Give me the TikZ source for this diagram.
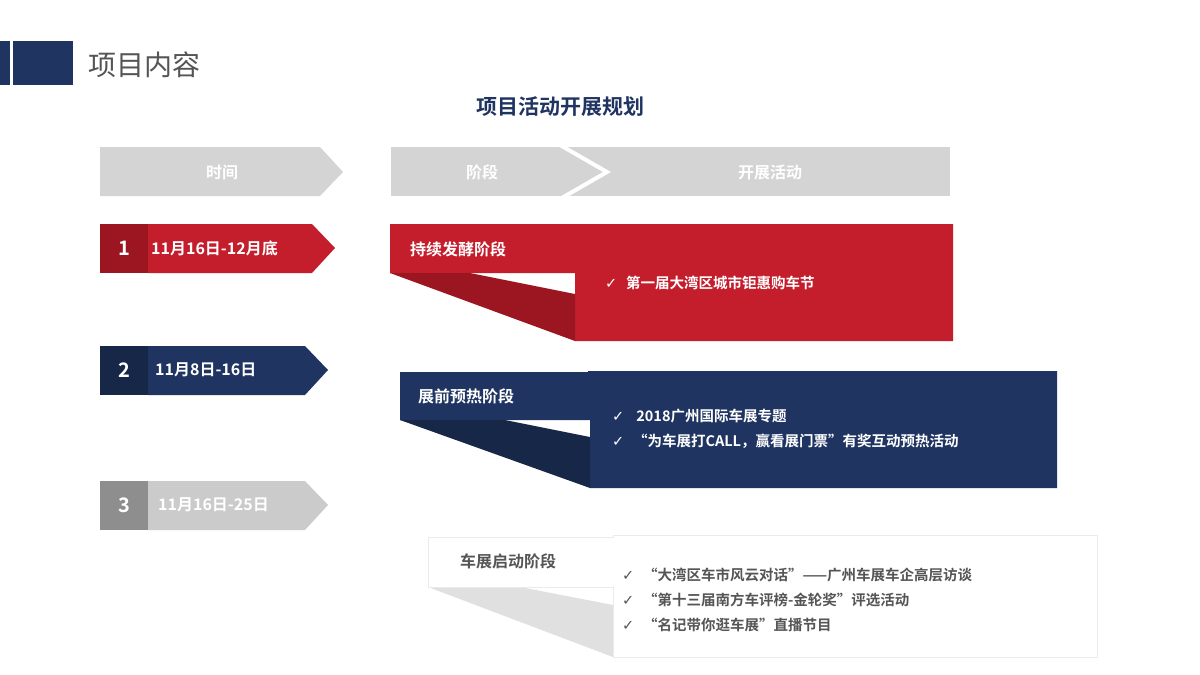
\documentclass[tikz,border=0pt]{standalone}
\usepackage{fontspec}
\setmainfont{Noto Sans CJK SC}
\newfontfamily\cjkb{Noto Sans CJK SC Bold}
\newfontfamily\dv{DejaVu Sans}
\definecolor{rd}{HTML}{C41E2D}
\definecolor{drd}{HTML}{9C1621}
\definecolor{nv}{HTML}{1F3461}
\definecolor{dnv}{HTML}{172747}
\definecolor{hg}{HTML}{D4D4D4}
\definecolor{dg}{HTML}{8E8E8E}
\definecolor{lg}{HTML}{CBCBCB}
\definecolor{tg}{HTML}{555555}
\newcommand{\ck}{{\dv\char"2713}\hspace{0.6em}}
\tikzset{wt/.style={text=white,font=\cjkb\fontsize{16}{18}\selectfont,inner sep=0pt},
 bl/.style={anchor=west,inner sep=0pt,font=\cjkb\fontsize{14.5}{25}\selectfont,align=left}}
\begin{document}
\begin{tikzpicture}[x=1pt,y=-1pt]
\useasboundingbox (0,0) rectangle (1200,675);
\fill[white] (0,0) rectangle (1200,675);
% title
\fill[nv] (0,41) rectangle (10,85);
\fill[nv] (13,41) rectangle (73,85);
\node[anchor=west,text=tg,font=\fontsize{28}{30}\selectfont,inner sep=0pt] (title) at (88,65) {项目内容};
\node[text=nv,font=\cjkb\fontsize{21}{24}\selectfont,inner sep=0pt] (sub) at (560,107) {项目活动开展规划};
% header
\fill[hg] (100,147) -- (320,147) -- (343,172) -- (320,196) -- (100,196) -- cycle;
\node[wt] (h1) at (222,172) {时间};
\fill[hg] (391,147) rectangle (950,196);
\draw[white,line width=4pt] (560,145) -- (607,172) -- (560,199);
\node[wt] (h2) at (482,172) {阶段};
\node[wt] (h3) at (770,172) {开展活动};
% row1
\fill[drd] (100,224) rectangle (148,273);
\fill[rd] (148,224) -- (312,224) -- (335,248) -- (312,273) -- (148,273) -- cycle;
\node[wt,font=\cjkb\fontsize{20}{22}\selectfont] (n1) at (124,248) {1};
\node[wt,anchor=west] (d1) at (151,248) {11月16日-12月底};
\fill[rd] (390,224) -- (953,224) -- (953,341) -- (575,341) -- (575,273) -- (390,273) -- cycle;
\fill[drd] (390,273) -- (470,273) -- (575,294) -- (575,341) -- cycle;
\node[wt,anchor=west] (s1) at (410,249) {持续发酵阶段};
\node[bl,text=white] (b1) at (605,283) {\ck 第一届大湾区城市钜惠购车节};
% row2
\fill[dnv] (100,346) rectangle (148,395);
\fill[nv] (148,346) -- (305,346) -- (328,370) -- (305,395) -- (148,395) -- cycle;
\node[wt,font=\cjkb\fontsize{20}{22}\selectfont] (n2) at (124,370) {2};
\node[wt,anchor=west] (d2) at (155,370) {11月8日-16日};
\fill[nv] (400,372) -- (588,372) -- (588,371) -- (1057,371) -- (1057,488) -- (590,488) -- (590,420) -- (400,420) -- cycle;
\fill[dnv] (400,420) -- (505,420) -- (590,437) -- (590,488) -- cycle;
\node[wt,anchor=west] (s2) at (418,396) {展前预热阶段};
\node[bl,text=white] (b2) at (612,429) {\ck\ 2018广州国际车展专题\\\ck“为车展打CALL，赢看展门票”有奖互动预热活动};
% row3
\fill[dg] (100,481) rectangle (148,530);
\fill[lg] (148,481) -- (305,481) -- (328,505) -- (305,530) -- (148,530) -- cycle;
\node[wt,font=\cjkb\fontsize{20}{22}\selectfont] (n3) at (124,505) {3};
\node[wt,anchor=west] (d3) at (158,505) {11月16日-25日};
\fill[black!12] (428,587) -- (520,587) -- (613,605) -- (613,657) -- cycle;
\draw[black!8,fill=white] (428,537) rectangle (613,587);
\draw[black!8,fill=white] (613,535) rectangle (1097,657);
\fill[white] (600,538) rectangle (614,586);
\node[wt,anchor=west,text=tg] (s3) at (460,561) {车展启动阶段};
\node[bl,text=tg] (b3) at (622,600) {\ck“大湾区车市风云对话”——广州车展车企高层访谈\\\ck“第十三届南方车评榜-金轮奖”评选活动\\\ck“名记带你逛车展”直播节目};
\end{tikzpicture}
\end{document}
